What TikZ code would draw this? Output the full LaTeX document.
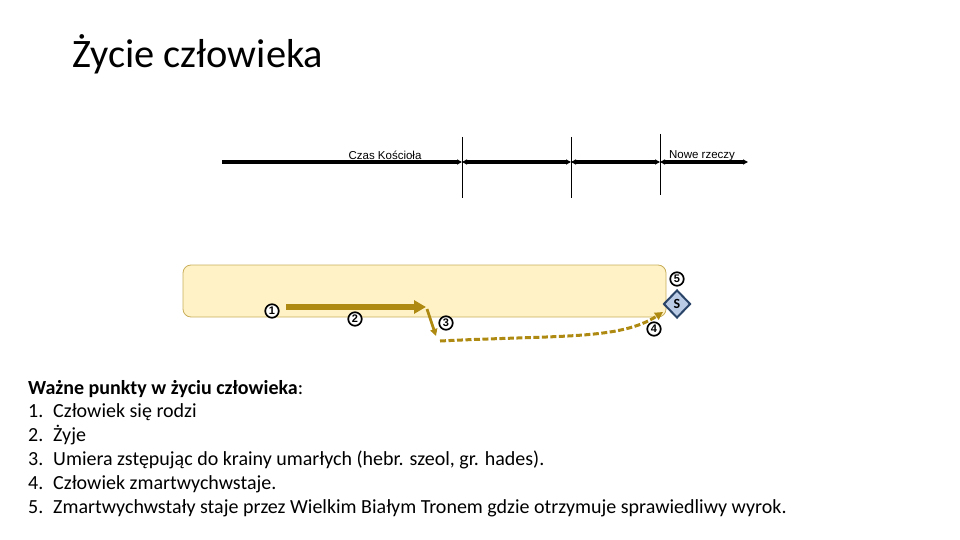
\documentclass[tikz,border=0pt]{standalone}
\usepackage{fontspec}
\setmainfont{Carlito}
\newfontfamily\arialfont{Liberation Sans}
\usetikzlibrary{arrows.meta,shapes.geometric}
\definecolor{lifegold}{HTML}{AE8A12}
\definecolor{boxfill}{HTML}{FFF2C6}
\definecolor{boxedge}{HTML}{C9AE5A}
\definecolor{throneblue}{HTML}{B9CBE5}
\definecolor{thronedge}{HTML}{2A4468}

\begin{document}
\begin{tikzpicture}[x=1pt, y=-1pt,
	timeline/.style={line width=3.5pt, black},
	tick/.style={line width=0.9pt, black},
	stage/.style={circle, draw=black, line width=1.7pt, fill=white, inner sep=0pt, minimum size=13.5pt, font=\arialfont\bfseries\fontsize{11}{11}\selectfont},
	listline/.style={anchor=base west, inner sep=0pt, font=\fontsize{20}{24}\selectfont}]
	\useasboundingbox (0,0) rectangle (960,540);
	\node[anchor=base west, inner sep=0pt, font=\fontsize{40.4}{48}\selectfont] (title) at (72,68) {Życie człowieka};
	% os czasu
	\coordinate (t0) at (222,162);
	\coordinate (t4) at (748,162);
	\foreach \k/\x/\ya/\yb in {1/462/137/198, 2/571/137/198, 3/660/134/195} {
		\coordinate (c\k) at (\x,162);
		\coordinate (top\k) at (\x,\ya);
		\coordinate (bot\k) at (\x,\yb);
		\draw[tick] (top\k) -- (bot\k);
	}
	\draw[timeline, -{Triangle[length=5pt,width=5pt]}] (t0) -- (c1);
	\draw[timeline, {Triangle[length=5pt,width=5pt]}-{Triangle[length=5pt,width=5pt]}] (c1) -- (c2);
	\draw[timeline, {Triangle[length=5pt,width=5pt]}-{Triangle[length=5pt,width=5pt]}] (c2) -- (c3);
	\draw[timeline, {Triangle[length=5pt,width=5pt]}-{Triangle[length=5pt,width=5pt]}] (c3) -- (t4);
	\node[font=\arialfont\fontsize{11.5}{12}\selectfont, inner sep=0pt] (church) at (385,155) {Czas Kościoła};
	\node[font=\arialfont\fontsize{11.5}{12}\selectfont, inner sep=0pt] (newthings) at (702,156) {Nowe rzeczy};
	% zycie
	\draw[rounded corners=8pt, fill=boxfill, draw=boxedge, line width=0.8pt] (183,265) rectangle (666,317);
	\coordinate (birth) at (286,307);
	\coordinate (death) at (426,307);
	\coordinate (fall) at (427,309);
	\coordinate (sheol) at (436,336);
	\coordinate (rise) at (440,341);
	\coordinate (throne) at (663,312);
	\draw[lifegold, line width=5.5pt, -{Triangle[length=12pt,width=13pt]}] (birth) -- (death);
	\draw[lifegold, line width=2.8pt, -{Triangle[length=7pt,width=7pt]}] (fall) -- (sheol);
	\draw[lifegold, line width=3pt, dash pattern=on 6pt off 2.5pt, -{Triangle[length=8pt,width=8pt]}] (rise) .. controls (560,335) and (620,340) .. (throne);
	\node[diamond, draw=thronedge, line width=2pt, fill=throneblue, inner sep=0pt, minimum width=27pt, minimum height=28pt, font=\bfseries\fontsize{14}{14}\selectfont] (s) at (677,304) {S};
	\foreach \n/\x/\y in {1/272/311, 2/355/319, 3/446/323, 4/654/329, 5/677/279}
		\node[stage] (p\n) at (\x,\y) {\n};
	% lista
	\node[listline] (head) at (28,394) {\textbf{Ważne punkty w życiu człowieka}:};
	\foreach \n/\y/\txt in {1/417/Człowiek się rodzi, 2/441/Żyje, 3/465/{Umiera zstępując do krainy umarłych (hebr. szeol, gr. hades).}, 4/489/Człowiek zmartwychwstaje., 5/513/Zmartwychwstały staje przez Wielkim Białym Tronem gdzie otrzymuje sprawiedliwy wyrok.} {
		\node[listline] (num\n) at (28,\y) {\n.};
		\node[listline] (item\n) at (53,\y) {\txt};
	}
\end{tikzpicture}
\end{document}
